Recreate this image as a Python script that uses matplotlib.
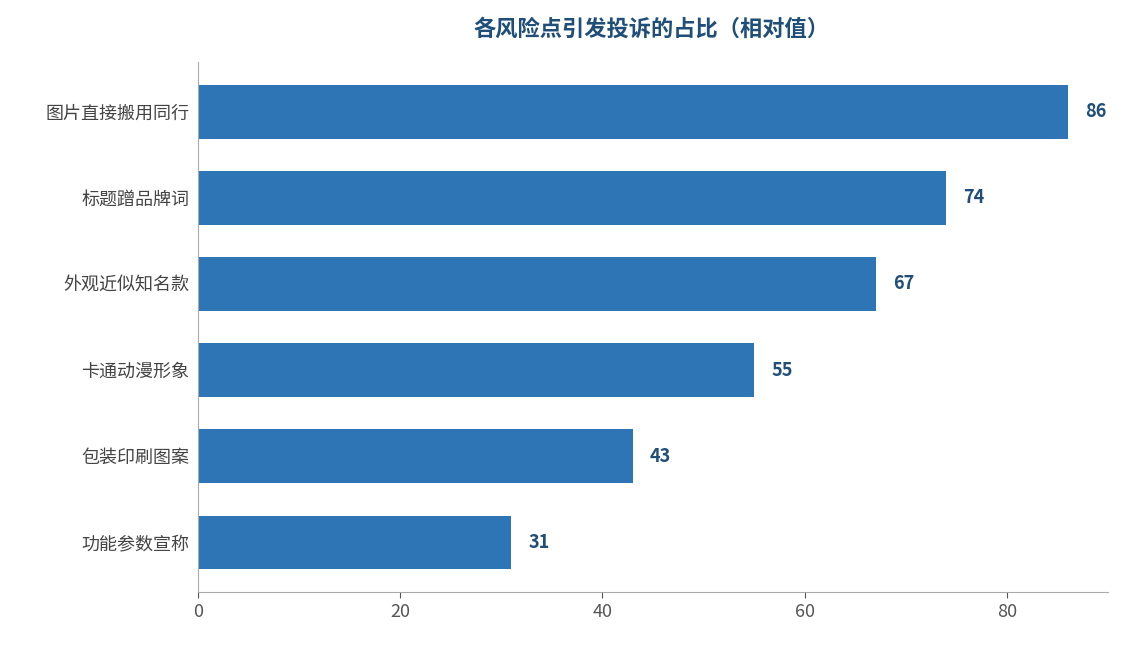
import matplotlib
matplotlib.use("Agg")
import matplotlib.pyplot as plt

plt.rcParams['font.family'] = ['Noto Sans CJK SC', 'DejaVu Sans']

categories = ["图片直接搬用同行", "标题蹭品牌词", "外观近似知名款", "卡通动漫形象", "包装印刷图案", "功能参数宣称"]
values = [86, 74, 67, 55, 43, 31]

fig = plt.figure(figsize=(11.24, 6.45), dpi=100)
ax = fig.add_axes([0.176, 0.082, 0.81, 0.822])
ypos = list(range(len(categories)))[::-1]
ax.barh(ypos, values, height=0.62, color="#2E75B6")
for y, v in zip(ypos, values):
    ax.text(v + 1.7, y, str(v), va="center", ha="left", fontsize=13, fontweight="bold", color="#1F4E79")
ax.set_yticks(ypos)
ax.set_yticklabels(categories, fontsize=13, color="#444444")
ax.set_xlim(0, 90)
ax.set_ylim(-0.58, 5.58)
ax.set_xticks([0, 20, 40, 60, 80])
ax.tick_params(axis='x', labelsize=13, colors="#555555", length=4)
ax.tick_params(axis='y', length=0, pad=6)
for s in ["top", "right"]:
    ax.spines[s].set_visible(False)
for s in ["left", "bottom"]:
    ax.spines[s].set_color("#AAAAAA")
fig.text(0.58, 0.955, "各风险点引发投诉的占比（相对值）", ha="center", va="center",
         fontsize=16, fontweight="bold", color="#1F4E79")
fig.savefig("out.png", dpi=100)
